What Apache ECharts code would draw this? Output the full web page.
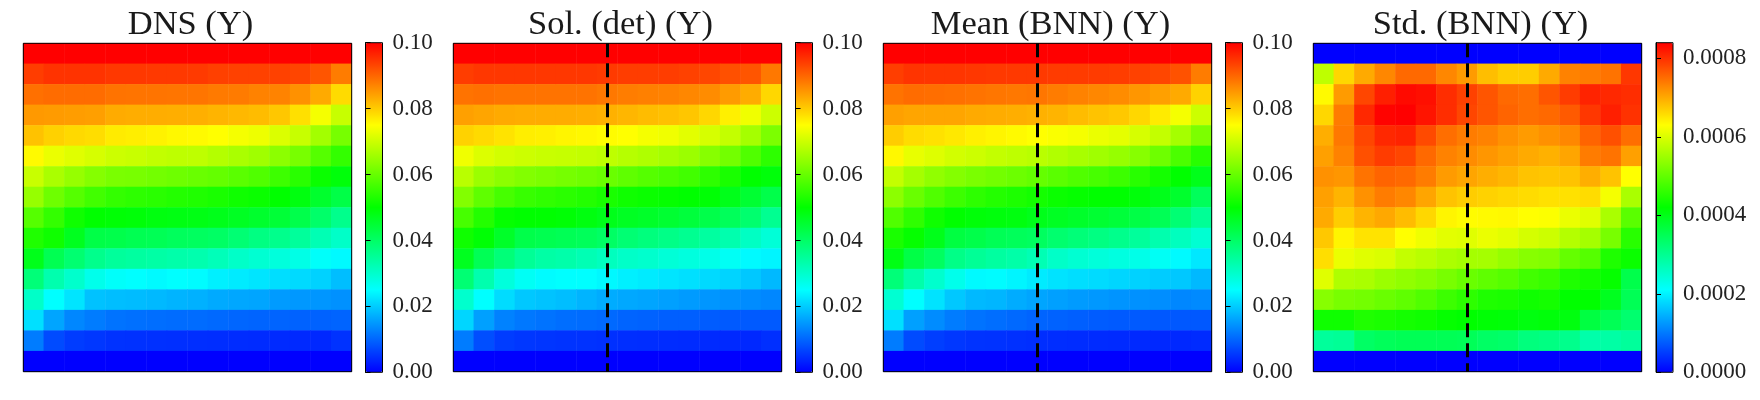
<!DOCTYPE html>
<html><head><meta charset="utf-8">
<script src="https://cdn.jsdelivr.net/npm/echarts@6/dist/echarts.min.js"></script>
<style>html,body{margin:0;padding:0;background:#fff}#c{width:1760px;height:400px}</style>
</head><body><div id="c"></div>
<script>
// Values are read in units of 0.001 for the Y panels, and percent of the colour bar for Std.
const titles = ['DNS (Y)', 'Sol. (det) (Y)', 'Mean (BNN) (Y)', 'Std. (BNN) (Y)'];
const colBarTicksY = [0, 0.02, 0.04, 0.06, 0.08, 0.10];
const colBarTicksStd = [0, 0.0002, 0.0004, 0.0006, 0.0008];
const maxY = 0.1;
const maxStd = 0.00084;
const dashedColumn = 7;
const cmap = ['#0000ff', '#00ffff', '#00ff00', '#ffff00', '#ff0000'];
const top100 = [100,100,100,100,100,100,100,100,100,100,100,100,100,100,100,100];
const zero16 = [0,0,0,0,0,0,0,0,0,0,0,0,0,0,0,0];

const dnsRows = [
top100,
[94,95,95,95,94.5,94.5,94.4,94.4,94.3,93.7,93.6,93.6,93.6,93.2,91.7,87.8],
[89,89.4,89.4,89.4,88.7,88.6,88.6,88.5,88.5,88,87.9,87.3,87.2,85.8,83.3,78.5],
[85,84.8,84.6,84.4,83.2,83,83,82.9,82.8,82.4,82,81.6,80.5,78,74,69.5],
[81,79.5,78.7,78.3,77,76.7,76.3,75.7,75.5,75,74,73.3,71.5,69.5,66,61.7],
[75.5,73,72,71,70,69.6,69,68.6,68.6,67.6,66.7,65.7,63.7,61.8,58.3,55],
[69.6,66.7,64.7,63,62,61.8,61.3,60.8,60.3,59.8,58.8,57.8,56,54,51,49],
[64.7,60.8,58.3,56.4,55,54.4,54,53.4,53,52.5,51.5,51,50,48.5,45.6,43],
[58.3,55,51.5,50,49.5,49.2,48.5,48.2,48,47.5,46.6,45.6,44.6,42.6,39.7,36.3],
[53,51.5,47,43,42.6,42,41.7,41,40.7,40.2,38.7,37.3,36.3,34.8,32.4,30.4],
[47.5,42,39,36.3,34.8,34.3,33.8,33.3,32.9,31.9,30.4,29.4,28.4,27.5,25.5,24.5],
[38.2,32.9,30,27,25.5,25,24.5,25,24.7,23.5,23,22.5,21.8,21.4,20.6,18.6],
[30.4,25,22.5,19,18.6,18.4,18.1,17.6,17.4,16.7,16.4,16.2,15.2,14.9,14.7,14.2],
[22,16.2,13.2,12.2,11.3,11,10.8,10.6,10.6,10.3,10,9.8,9.8,9.6,9.6,9.8],
[12.2,7.4,5.9,5.4,4.9,4.8,4.7,4.6,4.5,4.4,4.3,4.2,4.1,4,3.9,4.9],
zero16];

const solRows = [
top100,
[94,94.6,94.6,94.6,94.6,94.6,94.6,94.3,94,94,94,93.6,93.1,92.2,91.7,88.2],
[88.7,89,88.7,88.7,88.7,88.7,88.7,88.2,87.7,87.5,87.3,86.8,86.3,84.8,83.1,78.9],
[84.3,83.8,83.3,83.1,83.1,83.1,82.9,82.6,82.2,81.6,81.2,80.6,78.9,76.5,73.5,70],
[79.4,78.6,77.7,76.7,76.5,76,75.7,75.3,75,74,73.5,72.3,71,69.1,66.2,62.2],
[73.5,71.6,70.6,70,69.6,69.4,69.1,68.6,67.8,67.2,66.2,65.2,63.2,61.3,57.8,54.4],
[68.1,65.2,63.7,62.7,62.2,61.6,61,60.3,59.3,58.3,57.4,56.4,54.4,52.5,50,49],
[62.7,59.3,56.9,55.4,54.7,54.1,53.4,52.5,51.5,51,50.5,50,49.5,47.5,45.1,42.7],
[56.9,53.4,50.5,50,49.9,49.5,48.5,47.5,46.6,46,45.1,44.1,42.7,41.2,39.2,35.8],
[51.5,49.5,46,42.7,42.2,41.7,41.2,40.2,38.7,37.7,36.8,35.8,34.3,32.9,30.9,28.9],
[47,41.7,38.2,35.3,33.8,33.3,32.4,31.4,30.4,29.9,28.9,28.2,27.3,26,24.5,24],
[38.7,32.9,28.4,26,24.7,25,25,24.3,23.5,23,22.5,22,21.4,20.8,19.6,18.1],
[29.9,25,21.6,19.6,19.1,18.6,17.6,16.9,16.5,16.2,15.7,15.2,14.7,14.2,13.7,13.2],
[21,15.7,12.7,11.8,11.3,10.8,10.6,10.3,9.8,9.6,9.3,9.3,9,8.8,8.8,8.8],
[12.2,7.6,5.9,5.4,5.2,5,4.9,4.7,4.5,4.4,4.3,4.2,4.1,4,3.9,4.6],
zero16];

const meanRows = [
top100,
[93.9,94.9,94.8,94.8,94.6,94.4,94.4,94.4,94.2,94.2,94.2,94,93.6,93.1,92,87.8],
[88.7,89.4,89.2,89,88.7,88.4,88.2,88.4,87.8,87.3,86.8,86.3,85.3,84.3,83.3,79.4],
[84.3,83.8,83.8,83.8,83.3,83.1,82.9,82.6,82.4,81.6,80.9,80.4,78.9,77,74,70],
[79.9,78.4,77.9,77.3,76.5,76,75.5,75,74.5,74,73,72.5,71,69.1,66.2,62.2],
[75.7,72.7,71.8,70.6,70,69.1,68.6,68.1,67.4,66.5,65.7,64.7,63.2,60.8,57.4,53.9],
[69.1,66.2,64.2,62.9,62,61.3,60.6,59.8,58.8,57.8,57,55.9,53.9,52,50,47.5],
[63.7,60.3,57.8,55.9,54.4,53.4,52.7,52,51,50.5,50,49.9,49,47.5,45.6,41.2],
[57.8,54.6,51.5,50,49.2,48.8,48.5,47.5,46.6,45.9,45.1,44.3,43.1,41.7,38.7,35.3],
[52.5,50.5,47.5,43.6,42.7,41.7,41.2,40.7,39.2,38.2,37.3,36.3,34.8,32.9,31.4,29.4],
[48,43.1,40.7,36.8,35.3,34.3,33.5,32.4,30.4,29.4,28.6,28,27.3,26,24.5,22.7],
[38.2,33.3,29.9,27,24.5,24.7,24,23,22.3,21.8,21.5,21,20.6,20,19.6,18.1],
[29.4,25,22.3,19.6,18.1,17.8,16.9,16.2,15.7,15.2,14.9,14.5,14.2,13.9,13.2,13.5],
[22,15.7,13.7,12.2,11.3,10.8,10.3,9.8,9.6,9.3,9,8.8,8.8,8.6,8.6,8.6],
[12.2,7.4,6.1,5.4,5,4.9,4.7,4.5,4.4,4.3,4.2,4.1,4,3.9,3.9,4.2],
zero16];

const stdRows = [
zero16,
[68.6,78.9,83.3,86.8,89.7,89.7,86.8,84.8,81.4,79.9,79.9,83.3,87.3,87.8,88.7,94.6],
[75.5,84.8,93.1,97,99,98.5,95.6,93.6,91.7,89.7,89.2,91.7,94.1,96.6,96.1,95.6],
[78.9,87.8,96.1,99.7,100,98,95.6,93.1,91.7,90.2,89.2,89.7,91.2,94.6,97,95.1],
[82.9,88.2,93.1,96.1,96.6,92.7,89.2,87.8,87.3,85.8,84.8,85.8,86.8,90.2,92.2,89.2],
[84.3,87.3,92.2,94.1,93.1,89.7,87.3,86.3,85.3,84.3,83.3,82.6,83.8,87.8,88.7,84.3],
[85.8,85.3,88.7,90.2,89.7,87.8,84.8,83.8,82.9,82.2,80.9,80.6,80.9,82.9,80.9,75],
[84.3,82.4,85.8,87.8,86.8,83.8,80.9,79.9,79.4,78.9,78.4,77.9,77.9,78.4,74,66.7],
[83.3,79.9,82.4,83.5,81.6,78.9,76,75.3,75.5,75.7,75,74.7,73,72,66.7,58.8],
[80.4,76,77.7,77.7,75,73.5,72.3,72,73,72.3,70.8,70,67.6,66.2,61.8,53.9],
[78.2,73,72,71.4,69.1,68.1,66.9,66.2,66.2,64.7,63.2,62.7,59.8,58.3,52.9,51],
[72,67.2,66.7,65.2,64.2,63.2,61.8,60.3,59.3,58.3,56.4,55.4,52.9,52,50.5,42.6],
[63.2,61.8,61.3,60.3,59.3,57.8,55.9,54.4,52.9,52.5,51.5,52,50,50,47,41.7],
[51.5,51.5,53,52.5,52,51.5,50.5,50,49.5,49.2,48.5,49,48.5,43.6,41.7,39.2],
[34.8,35.3,40.2,41.2,41.7,41.7,41.7,41.4,40.2,39.7,37.7,37.3,36.3,33.3,33.8,34.8],
zero16];

// Layout in px
const panelLeft = [23.3, 453.3, 883.3, 1313.3];
const barLeft = [365.5, 795.5, 1225.5, 1656];
const panelTop = 43.3, panelSize = 328.4, barTop = 42.7, barH = 329.6, barW = 17;
const cats = zero16.map((_, i) => String(i));
const font = 'Liberation Serif';

const panels = [
  {rows: dnsRows, unit: 0.001, max: maxY, ticks: colBarTicksY, dec: 2, dash: false},
  {rows: solRows, unit: 0.001, max: maxY, ticks: colBarTicksY, dec: 2, dash: true},
  {rows: meanRows, unit: 0.001, max: maxY, ticks: colBarTicksY, dec: 2, dash: true},
  {rows: stdRows, unit: maxStd / 100, max: maxStd, ticks: colBarTicksStd, dec: 4, dash: true}
];

const option = {animation: false, backgroundColor: '#fff', title: [], grid: [], xAxis: [], yAxis: [], series: [], visualMap: []};
panels.forEach((p, k) => {
  const gi = option.grid.length;
  option.title.push({text: titles[k], left: panelLeft[k] + panelSize / 2 - 2, top: 2, textAlign: 'center',
    textStyle: {fontFamily: font, fontSize: 34.5, fontWeight: 'normal', color: '#1a1a1a'}});
  option.grid.push({left: panelLeft[k], top: panelTop, width: panelSize, height: panelSize, show: true,
    borderColor: '#000', borderWidth: 1, backgroundColor: 'transparent', z: 10});
  option.xAxis.push({type: 'category', gridIndex: gi, data: cats, show: false});
  option.yAxis.push({type: 'category', gridIndex: gi, data: cats, inverse: true, show: false});
  const data = [];
  p.rows.forEach((r, y) => r.forEach((v, x) => data.push([x, y, v * p.unit])));
  const s = {type: 'heatmap', xAxisIndex: gi, yAxisIndex: gi, data, silent: true, progressive: 0,
    itemStyle: {borderWidth: 0}, emphasis: {disabled: true}, z: 2};
  if (p.dash) s.markLine = {silent: true, symbol: 'none', animation: false, z: 20, label: {show: false},
    lineStyle: {color: '#000', width: 3, type: [14, 6], cap: 'butt'}, data: [{xAxis: dashedColumn}]};
  const si = option.series.length;
  option.series.push(s);
  option.visualMap.push({type: 'continuous', seriesIndex: si, min: 0, max: p.max, left: barLeft[k], top: barTop,
    itemWidth: barW, itemHeight: barH, padding: 0, calculable: false, hoverLink: false, text: null, showLabel: false,
    inRange: {color: cmap}, z: 4});
  // Colour bar frame and ticks
  const bi = option.grid.length;
  option.grid.push({left: barLeft[k], top: barTop, width: barW, height: barH, show: true, borderColor: '#000',
    borderWidth: 1, backgroundColor: 'transparent', z: 10});
  option.xAxis.push({type: 'value', gridIndex: bi, show: false, min: 0, max: 1});
  option.yAxis.push({type: 'value', gridIndex: bi, position: 'right', min: 0, max: p.max, z: 10,
    splitLine: {show: false}, axisLine: {show: true, lineStyle: {color: '#000', width: 1}},
    axisTick: {show: true, length: 5, inside: false, customValues: p.ticks, lineStyle: {color: '#000', width: 1}},
    axisLabel: {show: true, margin: 10, fontFamily: font, fontSize: 23, color: '#222', customValues: p.ticks,
      formatter: v => v.toFixed(p.dec)}});
});
const chart = echarts.init(document.getElementById('c'), null, {renderer: 'canvas', width: 1760, height: 400});
chart.setOption(option);
</script></body></html>
